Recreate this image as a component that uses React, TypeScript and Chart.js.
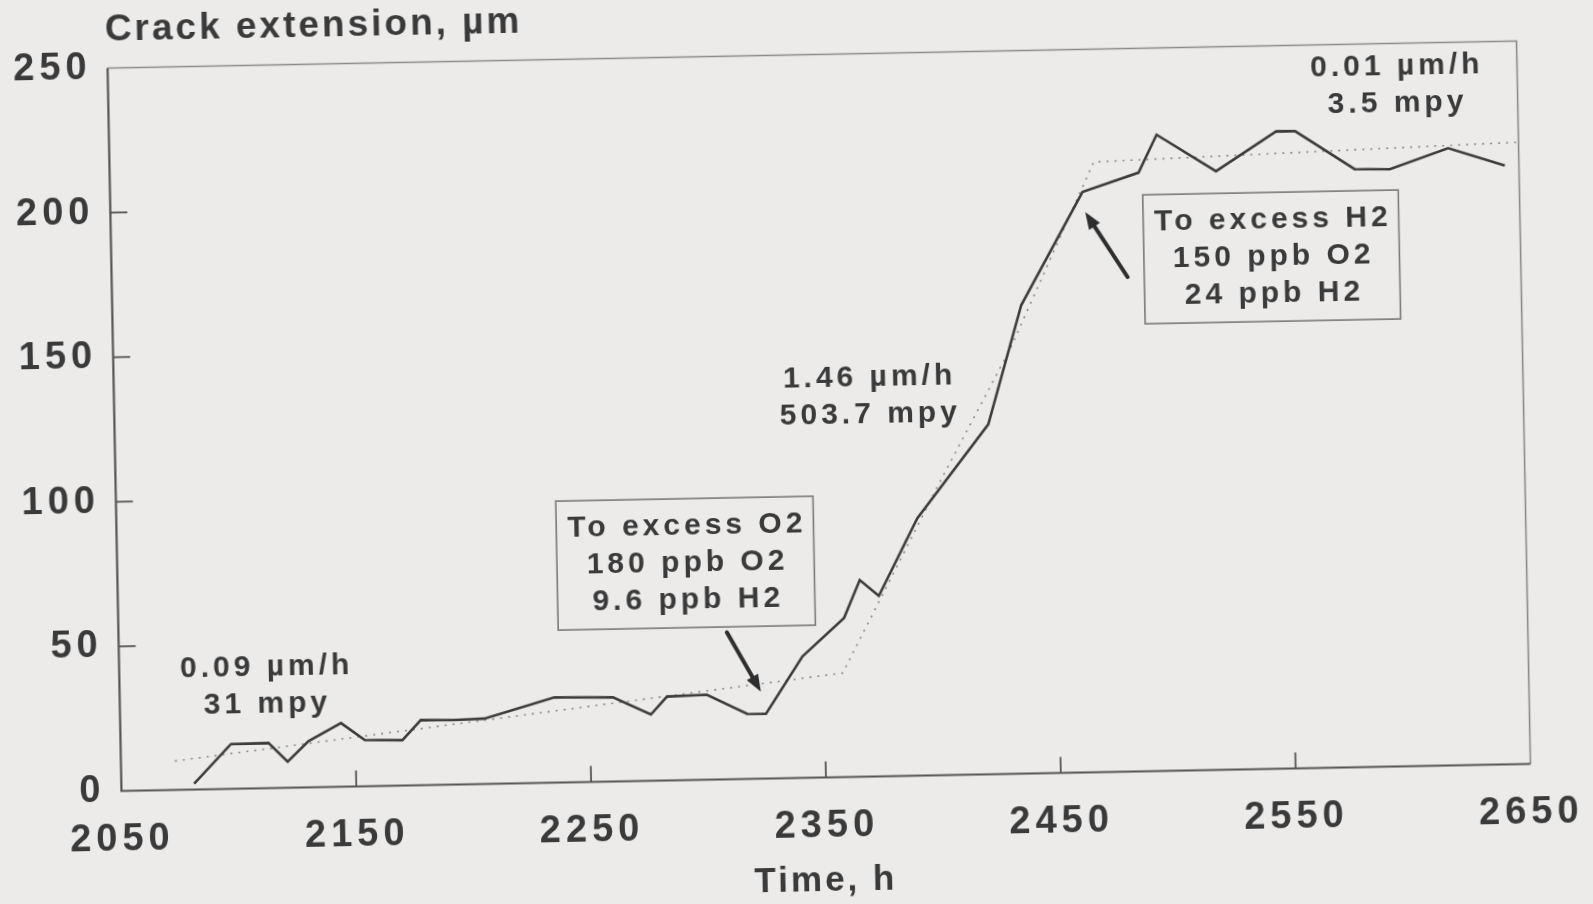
import React, { useEffect, useRef } from 'react';
import { Chart, registerables } from 'chart.js';

Chart.register(...registerables);

// ---- data ----
const timeH = [2081, 2097, 2113, 2121, 2130, 2144, 2154, 2170, 2178, 2192, 2205, 2235, 2260, 2276, 2283, 2300, 2317, 2325, 2341, 2359, 2366, 2374, 2391, 2422, 2437, 2464, 2488, 2496, 2521, 2547, 2555, 2580, 2595, 2620, 2644];
const crackUm = [2, 15.5, 15.6, 9, 16, 22, 16, 15.7, 22.5, 22.3, 22.6, 29.5, 29.1, 22.9, 29, 29.4, 22.5, 22.4, 42, 55, 68, 62.4, 89, 121, 162, 200.7, 207, 220, 207, 220.4, 220.3, 206.8, 206.5, 213.4, 207];
const fitTimeH = [2073, 2358, 2400, 2432, 2469, 2649];
const fitCrackUm = [10, 36, 100, 147, 211, 215];
const xTicks = [2050, 2150, 2250, 2350, 2450, 2550, 2650];
const yTicks = [0, 50, 100, 150, 200, 250];
const yAxisLabel = 'Crack extension, µm';
const xAxisLabel = 'Time, h';

const rateNotes = [
  { x: 2112, y: 35.2, lines: ['0.09 µm/h', '31 mpy'] },
  { x: 2371, y: 131.5, lines: ['1.46 µm/h', '503.7 mpy'] },
  { x: 2598, y: 235.7, lines: ['0.01 µm/h', '3.5 mpy'] },
];
const boxNotes = [
  { x: 2292, y: 75, lines: ['To excess O2', '180 ppb O2', '9.6 ppb H2'] },
  { x: 2544, y: 177, lines: ['To excess H2', '150 ppb O2', '24 ppb H2'] },
];
const arrowNotes = [
  { fromX: 2309, fromY: 50.8, toX: 2323, toY: 30.1 },
  { fromX: 2482.5, fromY: 171, toX: 2465, toY: 193.7 },
];

const FONT = '"Liberation Sans", Arial, Helvetica, sans-serif';
const INK = '#3a3a3a';
const TICK_SPACING = 5;
const NOTE_SPACING = 4;

function drawLines(ctx: CanvasRenderingContext2D, cx: number, cy: number, lines: string[], size: number, gap: number) {
  ctx.font = `bold ${size}px ${FONT}`;
  (ctx as any).letterSpacing = NOTE_SPACING + 'px';
  ctx.textAlign = 'center';
  ctx.textBaseline = 'middle';
  ctx.fillStyle = INK;
  lines.forEach((t, i) => {
    ctx.fillText(t, cx + NOTE_SPACING / 2, cy + (i - (lines.length - 1) / 2) * gap);
  });
}

function drawArrow(ctx: CanvasRenderingContext2D, x1: number, y1: number, x2: number, y2: number) {
  const ang = Math.atan2(y2 - y1, x2 - x1);
  const head = 17;
  const half = 6.5;
  const bx = x2 - Math.cos(ang) * head;
  const by = y2 - Math.sin(ang) * head;
  ctx.strokeStyle = '#2e2e2e';
  ctx.fillStyle = '#2e2e2e';
  ctx.lineWidth = 4;
  ctx.lineCap = 'round';
  ctx.beginPath();
  ctx.moveTo(x1, y1);
  ctx.lineTo(bx + Math.cos(ang) * 4, by + Math.sin(ang) * 4);
  ctx.stroke();
  ctx.beginPath();
  ctx.moveTo(x2, y2);
  ctx.lineTo(bx - Math.sin(ang) * half, by + Math.cos(ang) * half);
  ctx.lineTo(bx + Math.sin(ang) * half, by - Math.cos(ang) * half);
  ctx.closePath();
  ctx.fill();
}

const decorPlugin = {
  id: 'decor',
  beforeDraw(chart: any) {
    chart.ctx.letterSpacing = TICK_SPACING + 'px';
  },
  afterDatasetsDraw(chart: any) {
    const { ctx, chartArea: a, scales } = chart;
    const xs = scales.x;
    const ys = scales.y;
    ctx.save();
    // frame
    ctx.lineCap = 'butt';
    ctx.strokeStyle = '#8a8a8a';
    ctx.lineWidth = 1.6;
    ctx.beginPath();
    ctx.moveTo(a.left, a.top);
    ctx.lineTo(a.right, a.top);
    ctx.lineTo(a.right, a.bottom);
    ctx.stroke();
    ctx.strokeStyle = '#555';
    ctx.lineWidth = 2.2;
    ctx.beginPath();
    ctx.moveTo(a.left, a.top);
    ctx.lineTo(a.left, a.bottom);
    ctx.lineTo(a.right, a.bottom);
    ctx.stroke();
    // inward ticks
    ctx.lineWidth = 1.8;
    ctx.strokeStyle = '#555';
    xTicks.slice(1, -1).forEach((v) => {
      const px = xs.getPixelForValue(v);
      ctx.beginPath();
      ctx.moveTo(px, a.bottom);
      ctx.lineTo(px, a.bottom - 16);
      ctx.stroke();
    });
    yTicks.slice(1, -1).forEach((v) => {
      const py = ys.getPixelForValue(v);
      ctx.beginPath();
      ctx.moveTo(a.left, py);
      ctx.lineTo(a.left + 17, py);
      ctx.stroke();
    });
    // y axis label
    ctx.font = `bold 37px ${FONT}`;
    ctx.letterSpacing = '3px';
    ctx.fillStyle = INK;
    ctx.textAlign = 'left';
    ctx.textBaseline = 'middle';
    ctx.fillText(yAxisLabel, a.left - 2, a.top - 38);
    // x axis label
    ctx.font = `bold 35px ${FONT}`;
    ctx.letterSpacing = '3px';
    ctx.textAlign = 'center';
    ctx.fillText(xAxisLabel, (a.left + a.right) / 2 - 2, chart.height - 23);
    // rate notes
    rateNotes.forEach((n) => {
      drawLines(ctx, xs.getPixelForValue(n.x), ys.getPixelForValue(n.y), n.lines, 30, 37);
    });
    // boxed notes
    boxNotes.forEach((n) => {
      const cx = xs.getPixelForValue(n.x);
      const cy = ys.getPixelForValue(n.y);
      ctx.font = `bold 30px ${FONT}`;
      ctx.letterSpacing = NOTE_SPACING + 'px';
      const w = Math.max(...n.lines.map((t) => ctx.measureText(t).width)) + 18;
      const h = n.lines.length * 37 + 18;
      ctx.fillStyle = 'rgba(236,235,234,1)';
      ctx.fillRect(cx - w / 2, cy - h / 2, w, h);
      ctx.strokeStyle = '#7a7a7a';
      ctx.lineWidth = 1.6;
      ctx.strokeRect(cx - w / 2, cy - h / 2, w, h);
      drawLines(ctx, cx, cy, n.lines, 30, 37);
    });
    // arrows
    arrowNotes.forEach((r) => {
      drawArrow(ctx, xs.getPixelForValue(r.fromX), ys.getPixelForValue(r.fromY), xs.getPixelForValue(r.toX), ys.getPixelForValue(r.toY));
    });
    ctx.restore();
  },
};

export default function App() {
  const ref = useRef<HTMLCanvasElement | null>(null);
  useEffect(() => {
    if (!ref.current) return;
    const chart = new Chart(ref.current, {
      type: 'line',
      data: {
        datasets: [
          {
            label: 'Crack extension',
            data: timeH.map((t, i) => ({ x: t, y: crackUm[i] })),
            borderColor: '#3c3c3c',
            borderWidth: 2.6,
            pointRadius: 0,
            tension: 0,
            fill: false,
          },
          {
            label: 'Fit',
            data: fitTimeH.map((t, i) => ({ x: t, y: fitCrackUm[i] })),
            borderColor: '#8a8a8a',
            borderWidth: 1.6,
            borderDash: [2, 6],
            pointRadius: 0,
            tension: 0,
            fill: false,
          },
        ],
      },
      options: {
        animation: false,
        responsive: false,
        events: [],
        layout: { padding: { top: 54.5, right: 69.4, left: 0, bottom: 0 } },
        plugins: { legend: { display: false }, tooltip: { enabled: false }, title: { display: false } },
        scales: {
          x: {
            type: 'linear',
            min: 2050,
            max: 2650,
            afterBuildTicks: (s: any) => {
              s.ticks = xTicks.map((v) => ({ value: v }));
            },
            afterFit: (s: any) => {
              s.height = 126.5;
            },
            ticks: {
              callback: (v: any) => String(v),
              font: { size: 38, family: FONT, weight: 'bold' },
              color: INK,
              padding: 26,
              maxRotation: 0,
              autoSkip: false,
            },
            grid: { display: false, drawTicks: false },
            border: { display: false },
            title: { display: false },
          },
          y: {
            type: 'linear',
            min: 0,
            max: 250,
            afterBuildTicks: (s: any) => {
              s.ticks = yTicks.map((v) => ({ value: v }));
            },
            afterFit: (s: any) => {
              s.width = 114.4;
            },
            ticks: {
              callback: (v: any) => String(v),
              font: { size: 38, family: FONT, weight: 'bold' },
              color: INK,
              padding: 16,
              autoSkip: false,
            },
            grid: { display: false, drawTicks: false },
            border: { display: false },
          },
        },
      },
      plugins: [decorPlugin],
    } as any);
    return () => chart.destroy();
  }, []);

  return (
    <div style={{ position: 'fixed', left: 0, top: 0, width: 1593, height: 904, background: '#ecebea', overflow: 'hidden' }}>
      <div
        style={{
          position: 'absolute',
          left: 0,
          top: 0,
          width: 1593,
          height: 904,
          transform: 'rotate(-1.1deg)',
          transformOrigin: '819px 416px',
        }}
      >
        <canvas ref={ref} width={1593} height={904} style={{ display: 'block', width: 1593, height: 904 }} />
      </div>
    </div>
  );
}
